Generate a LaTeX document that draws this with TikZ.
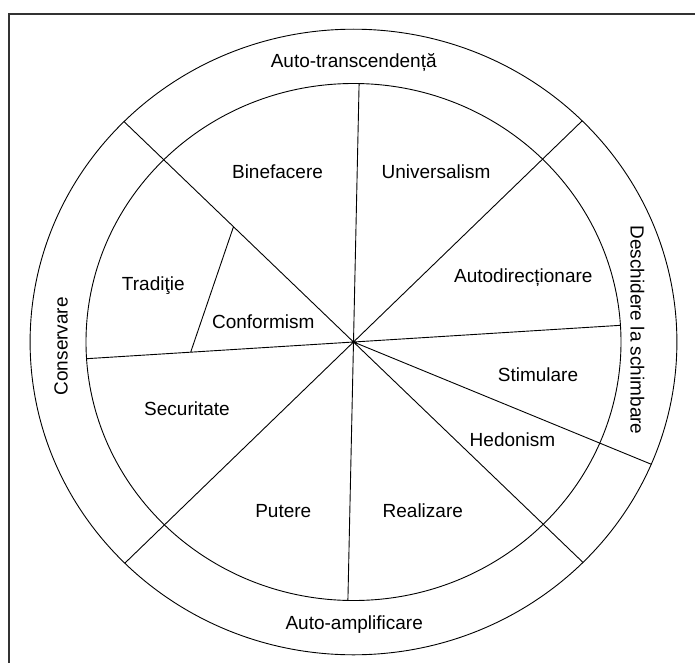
\documentclass[tikz,border=0pt]{standalone}
\usepackage{fontspec}
\setmainfont{Liberation Sans}
\usetikzlibrary{calc}

\tikzset{
  lbl/.style={font=\fontsize{19}{22}\selectfont, anchor=base, inner sep=0pt},
  rim/.style={line width=0.9pt},
  frame/.style={line width=2pt, black!80},
}

\begin{document}
\begin{tikzpicture}[x=1pt,y=1pt]
  \useasboundingbox (-353.5,-320) rectangle (341.5,342);
  \draw[frame] (360,327.8) -- (-344.8,327.8) -- (-344.8,-340);

  % wheel
  \coordinate (c) at (0,0);
  \draw[rim] (c) ellipse [x radius=323.4pt, y radius=312.8pt];
  \draw[rim] (c) ellipse [x radius=267.5pt, y radius=258.5pt];

  \coordinate (nw)  at (135.2:323.4 and 312.8);
  \coordinate (se)  at (315.2:323.4 and 312.8);
  \coordinate (ne)  at (45:323.4 and 312.8);
  \coordinate (sw)  at (225:323.4 and 312.8);
  \coordinate (ese) at (337:323.4 and 312.8);
  \coordinate (n)   at (88.8:267.5 and 258.5);
  \coordinate (s)   at (268.8:267.5 and 258.5);
  \coordinate (e)   at (3.7:267.5 and 258.5);
  \coordinate (w)   at (183.7:267.5 and 258.5);
  \coordinate (tc)  at ($(c)!0.523!(nw)$);
  \coordinate (tw)  at ($(c)!0.61!(w)$);

  \draw[rim] (nw) -- (se) (ne) -- (sw) (n) -- (s) (e) -- (w) (c) -- (ese) (tc) -- (tw);

  % values
  \node[lbl] (bin) at (-76,163.7) {Binefacere};
  \node[lbl] (uni) at (82.5,163.7) {Universalism};
  \node[lbl] (aut) at (169.8,60) {Autodirecționare};
  \node[lbl] (tra) at (-200.2,52) {Tradiţie};
  \node[lbl] (con) at (-90.2,13.7) {Conformism};
  \node[lbl] (sti) at (184.5,-39) {Stimulare};
  \node[lbl] (hed) at (159,-104) {Hedonism};
  \node[lbl] (sec) at (-166.5,-73.7) {Securitate};
  \node[lbl] (put) at (-70.2,-175.3) {Putere};
  \node[lbl] (rea) at (69.3,-175.3) {Realizare};

  % dimensions
  \node[lbl] (atr) at (0.2,274.3) {Auto-transcendență};
  \node[lbl] (aam) at (0.7,-287.3) {Auto-amplificare};
  \node[lbl, rotate=90] (cns) at (-285.8,-4.2) {Conservare};
  \node[lbl, rotate=-90] (des) at (277.2,12) {Deschidere la schimbare};
\end{tikzpicture}
\end{document}
